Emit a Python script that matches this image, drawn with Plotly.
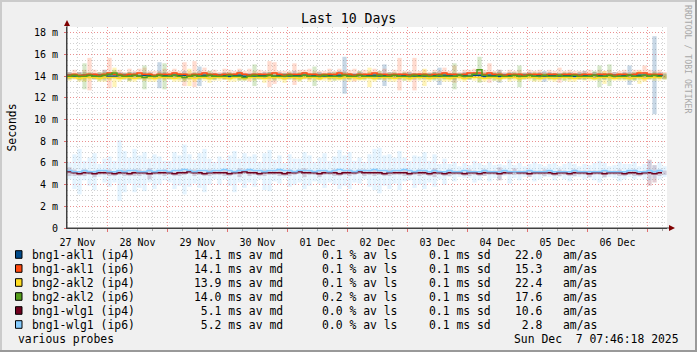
import plotly.graph_objects as go
import pandas as pd

# ---------------- data ----------------
START = "2025-11-27 07:46:18"
END = "2025-12-07 07:46:18"
N_STEPS = 120  # 2-hour consolidation steps

names = ["bng1-akl1 (ip4)", "bng1-akl1 (ip6)", "bng2-akl2 (ip4)",
         "bng2-akl2 (ip6)", "bng1-wlg1 (ip4)", "bng1-wlg1 (ip6)"]
colors = ["#004A8A", "#FF4A10", "#FFDD22", "#559E1C", "#70001E", "#86CCFF"]
smoke_colors = ["rgba(0,74,138,0.22)", "rgba(255,74,16,0.20)", "rgba(255,214,0,0.28)",
                "rgba(85,158,28,0.24)", "rgba(112,0,30,0.20)", "rgba(134,204,255,0.22)"]

avg_median = [14.1, 14.1, 13.9, 14.0, 5.1, 5.2]
avg_loss = [0.1, 0.1, 0.1, 0.2, 0.0, 0.0]
avg_sd = [0.1, 0.1, 0.1, 0.1, 0.1, 0.1]
am_as = [22.0, 15.3, 22.4, 17.6, 10.6, 2.8]

akl1_ip4 = [14.1,14.0,14.0,14.1,14.1,14.0,14.1,14.1,14.0,14.0,
            14.1,14.1,14.0,14.1,14.0,14.1,14.1,14.0,14.1,14.1,
            14.0,14.1,14.1,14.1,14.0,14.1,14.0,14.1,14.1,14.0,
            14.1,14.1,14.0,14.1,14.1,14.0,14.1,14.0,14.1,14.1,
            14.1,14.0,14.1,14.1,14.0,14.1,14.1,14.1,14.0,14.1,
            14.1,14.0,14.1,14.0,14.1,14.1,14.0,14.1,14.1,14.0,
            14.1,14.1,14.0,14.1,14.1,14.1,14.0,14.1,14.1,14.0,
            14.1,14.0,14.1,14.1,14.0,14.1,14.1,14.0,14.1,14.1,
            14.0,14.1,14.1,14.0,14.1,14.1,14.0,14.1,14.1,14.1,
            14.0,14.1,14.1,14.0,14.1,14.0,14.1,14.1,14.0,14.1,
            14.1,14.0,14.1,14.1,14.0,14.1,14.1,14.0,14.1,14.1,
            14.0,14.1,14.1,14.0,14.1,14.1,14.0,14.1,14.1,14.0]
akl1_ip6 = [14.1,14.2,14.1,14.1,14.2,14.2,14.1,14.2,14.3,14.2,
            14.2,14.1,14.2,14.2,14.3,14.2,14.2,14.1,14.2,14.2,
            14.2,14.3,14.2,14.2,14.1,14.2,14.2,14.3,14.2,14.2,
            14.1,14.2,14.2,14.2,14.3,14.2,14.1,14.2,14.2,14.2,
            14.2,14.3,14.2,14.1,14.2,14.2,14.2,14.3,14.2,14.2,
            14.1,14.2,14.2,14.2,14.3,14.2,14.2,14.1,14.2,14.2,
            14.2,14.3,14.2,14.2,14.1,14.2,14.2,14.2,14.1,14.2,
            14.2,14.2,14.1,14.2,14.2,14.3,14.2,14.2,14.1,14.2,
            14.3,14.3,14.3,14.2,14.3,14.2,14.2,14.1,14.2,14.2,
            14.2,14.1,14.2,14.2,14.2,14.1,14.2,14.2,14.1,14.2,
            14.2,14.2,14.1,14.2,14.2,14.1,14.2,14.2,14.2,14.1,
            14.2,14.2,14.1,14.2,14.3,14.3,14.2,14.2,14.2,14.1]
akl2_ip4 = [13.9,13.9,13.8,13.9,13.9,13.9,13.8,13.9,13.9,13.9,
            13.8,13.9,13.9,13.8,13.9,13.9,13.9,13.8,13.9,13.9,
            13.9,13.8,13.9,13.9,13.9,13.8,13.9,13.9,13.8,13.9,
            13.9,13.9,13.8,13.9,13.9,13.8,13.9,13.9,13.9,13.8,
            13.9,13.9,13.9,13.8,13.9,13.9,13.8,13.9,13.9,13.9,
            13.8,13.9,13.9,13.9,13.8,13.9,13.9,13.9,13.8,13.9,
            13.9,13.8,13.9,13.9,13.9,13.8,13.9,13.9,13.8,13.9,
            13.9,13.9,13.8,13.9,13.9,13.9,13.8,13.9,13.9,13.8,
            13.9,13.9,13.9,13.8,13.9,13.9,13.8,13.9,13.9,13.9,
            13.8,13.9,13.9,13.9,13.8,13.9,13.9,13.8,13.9,13.9,
            13.9,13.8,13.9,13.9,13.9,13.8,13.9,13.9,13.9,13.8,
            13.9,13.9,13.8,13.9,13.9,13.8,13.9,13.9,13.9,13.9]
akl2_ip6 = [14.0,14.1,14.0,14.0,14.1,14.0,14.0,14.1,14.2,14.3,
            14.1,14.0,14.0,14.1,14.0,13.9,14.0,14.0,14.1,14.0,
            14.0,14.1,14.0,13.9,14.0,14.1,14.0,14.0,14.1,14.0,
            14.0,14.0,14.1,14.0,14.0,13.9,14.0,14.1,14.0,14.0,
            14.1,14.0,14.0,14.0,14.1,14.0,14.0,14.1,14.0,14.0,
            14.0,14.1,14.0,14.0,14.0,14.1,14.0,14.0,14.1,14.0,
            14.0,14.0,14.1,14.0,14.0,14.1,14.0,14.0,14.0,14.1,
            14.0,14.1,14.0,14.0,14.1,14.0,14.0,14.0,14.1,14.0,
            14.0,14.2,14.6,14.1,14.0,14.0,14.1,14.0,14.0,14.1,
            14.0,14.0,14.1,14.0,14.0,14.1,14.0,14.0,14.1,14.0,
            14.0,14.1,14.0,14.0,14.0,14.1,14.0,14.0,14.1,14.0,
            14.0,14.0,14.1,14.0,14.0,14.1,14.0,14.1,14.0,14.0]
wlg1_ip4 = [5.2,5.1,5.0,5.1,5.1,5.0,5.1,5.1,5.1,5.0,
            5.1,5.1,5.0,5.1,5.1,5.1,5.0,5.1,5.1,5.1,
            5.1,5.0,5.1,5.1,5.2,5.1,5.1,5.0,5.1,5.1,
            5.1,5.1,5.0,5.1,5.1,5.2,5.1,5.1,5.0,5.1,
            5.1,5.1,5.1,5.0,5.1,5.1,5.2,5.1,5.1,5.1,
            5.0,5.1,5.1,5.1,5.0,5.1,5.1,5.1,5.2,5.1,
            5.1,5.1,5.1,5.0,5.1,5.1,5.1,5.1,5.0,5.1,
            5.1,5.1,5.0,5.1,5.1,5.0,5.1,5.1,5.1,5.0,
            5.1,5.1,5.0,5.1,5.1,5.1,5.0,5.1,5.1,5.2,
            5.1,5.1,5.0,5.1,5.1,5.1,5.1,5.0,5.1,5.1,
            5.0,5.1,5.1,5.1,5.0,5.1,5.1,5.0,5.1,5.1,
            5.1,5.0,5.1,5.1,5.0,5.1,5.1,5.0,5.1,5.1]
wlg1_ip6 = [5.3,5.2,5.2,5.3,5.2,5.2,5.3,5.3,5.2,5.2,
            5.3,5.2,5.3,5.3,5.2,5.2,5.3,5.2,5.3,5.3,
            5.2,5.3,5.3,5.4,5.3,5.2,5.3,5.3,5.2,5.3,
            5.3,5.4,5.3,5.2,5.3,5.3,5.4,5.3,5.3,5.2,
            5.3,5.3,5.4,5.3,5.3,5.2,5.3,5.3,5.3,5.2,
            5.3,5.3,5.2,5.3,5.4,5.3,5.3,5.2,5.3,5.3,
            5.3,5.4,5.3,5.3,5.2,5.3,5.3,5.4,5.3,5.2,
            5.3,5.3,5.2,5.3,5.2,5.2,5.3,5.2,5.2,5.3,
            5.2,5.2,5.2,5.3,5.2,5.2,5.2,5.3,5.2,5.2,
            5.2,5.2,5.3,5.2,5.2,5.2,5.3,5.2,5.2,5.2,
            5.2,5.3,5.2,5.2,5.2,5.2,5.2,5.3,5.2,5.2,
            5.2,5.2,5.3,5.3,5.2,5.2,5.3,5.2,5.3,5.2]

# smoke half-ranges (ms) per step
akl1_ip4_sp = [0.3,0.2,0.4,0.3,0.2,0.3,0.2,0.5,0.3,0.2,
               0.3,0.2,0.4,0.3,0.2,0.3,0.3,0.2,1.2,0.3,
               0.2,0.3,0.2,0.4,0.3,0.2,0.9,0.3,0.2,0.3,
               0.2,0.3,0.3,0.2,0.4,0.3,0.2,0.3,0.2,0.3,
               0.3,0.2,0.3,0.2,0.3,0.4,0.2,0.3,0.3,0.2,
               0.3,0.2,0.3,0.2,0.4,1.7,0.3,0.2,0.3,0.2,
               0.3,0.2,0.3,1.0,0.3,0.2,0.3,0.2,0.3,0.3,
               0.2,0.3,0.2,0.3,0.8,0.3,0.2,0.3,0.2,0.3,
               0.3,0.2,0.3,0.2,0.3,0.2,0.6,0.2,0.3,0.2,
               0.3,0.2,0.3,0.2,0.3,0.5,0.3,0.2,0.3,0.2,
               0.3,0.2,0.3,0.4,0.2,0.3,0.2,0.3,0.2,0.3,
               0.2,0.3,0.9,0.3,0.2,0.3,0.2,3.6,0.3,0.2]
akl1_ip6_sp = [0.3,0.4,0.3,0.5,1.5,0.4,0.3,0.4,1.4,0.3,
               0.4,0.3,0.5,0.3,0.4,0.6,0.3,0.4,0.3,0.5,
               0.3,0.4,0.3,1.1,0.4,1.2,0.3,0.5,0.3,0.4,
               0.3,0.5,0.4,0.3,0.4,0.3,0.6,0.3,0.4,0.3,
               1.2,1.0,0.3,0.4,0.3,1.0,0.4,0.3,0.5,0.3,
               0.4,0.3,0.5,0.3,0.4,0.3,0.4,0.6,0.3,0.4,
               0.3,0.4,0.3,0.5,0.3,0.4,1.5,0.3,0.4,1.5,
               0.3,0.4,0.3,0.4,0.3,0.5,0.3,0.8,0.3,0.4,
               0.3,0.4,0.3,0.4,0.9,0.3,0.4,0.3,0.4,0.3,
               0.4,0.3,0.4,0.3,0.4,0.3,0.4,0.3,0.7,0.3,
               0.4,0.3,0.4,0.3,0.4,0.3,0.4,0.3,0.4,0.3,
               0.3,0.4,0.3,0.4,0.3,0.7,0.4,0.3,0.4,0.3]
akl2_ip4_sp = [0.3,0.2,0.3,0.4,0.3,0.2,0.3,0.4,0.3,0.9,
               0.3,0.2,0.4,0.3,0.2,0.3,0.4,0.3,0.2,0.3,
               0.2,0.3,0.4,0.3,0.8,0.3,0.2,0.3,0.4,0.3,
               0.3,0.2,0.3,0.4,0.3,0.2,0.3,0.3,0.2,0.4,
               0.3,0.2,0.3,0.4,0.2,0.3,0.3,0.2,0.4,0.3,
               0.2,0.3,0.4,0.3,0.2,0.3,0.4,0.3,0.2,0.3,
               0.9,0.3,0.2,0.3,0.4,0.3,0.2,0.3,0.3,0.2,
               0.3,0.8,0.3,0.2,0.3,0.4,0.3,0.2,0.3,0.3,
               0.2,0.3,0.4,0.3,0.2,0.3,0.3,0.2,0.4,0.3,
               0.3,0.2,0.3,0.4,0.3,0.2,0.3,0.3,0.2,0.3,
               0.4,0.3,0.2,0.3,0.3,0.2,0.3,0.6,0.3,0.2,
               0.3,0.3,0.2,0.3,0.6,0.3,0.2,0.3,0.3,0.2]
akl2_ip6_sp = [0.3,0.2,0.3,1.2,0.3,0.2,0.4,0.3,0.2,0.3,
               0.2,0.3,0.4,0.2,0.3,1.1,0.3,0.2,0.3,1.2,
               0.3,0.2,0.3,0.4,0.2,0.3,0.3,0.2,0.4,0.3,
               0.2,0.3,0.3,0.2,0.4,0.3,0.2,1.0,0.3,0.2,
               0.3,0.4,0.2,0.3,0.3,0.2,0.4,0.3,0.2,0.9,
               0.3,0.2,0.3,0.4,0.2,0.3,0.3,0.2,0.4,0.3,
               0.2,0.3,0.4,0.2,0.3,0.3,0.2,0.4,0.3,0.2,
               0.3,0.2,0.3,0.4,0.2,0.3,0.3,1.2,0.2,0.3,
               0.3,0.2,1.2,0.3,0.2,0.4,0.3,0.2,0.3,0.3,
               1.0,0.3,0.2,0.4,0.3,0.2,0.3,0.3,0.2,0.4,
               0.3,0.2,0.3,0.3,0.2,0.4,1.0,0.3,1.0,0.2,
               0.3,0.3,0.2,0.4,0.3,0.2,0.3,0.3,0.2,0.3]
wlg1_ip4_sp = [0.4,0.3,0.2,0.3,0.2,0.3,0.2,0.2,0.3,0.2,
               0.2,0.3,0.2,0.3,0.3,0.2,0.5,0.2,0.2,0.3,
               0.2,0.2,0.3,0.2,0.2,0.3,0.2,0.2,0.3,0.2,
               0.2,0.3,0.2,0.2,0.4,0.2,0.3,0.2,0.2,0.3,
               0.2,0.2,0.3,0.2,0.3,0.2,0.2,0.4,0.2,0.2,
               0.3,0.2,0.2,0.3,0.2,0.2,0.3,0.2,0.2,0.3,
               0.2,0.3,0.2,0.2,0.3,0.2,0.2,0.3,0.2,0.2,
               0.3,0.2,0.2,0.4,0.2,0.2,0.3,0.2,0.2,0.2,
               0.3,0.2,0.2,0.3,0.2,0.2,0.6,0.2,0.2,0.3,
               0.2,0.2,0.3,0.2,0.2,0.3,0.2,0.2,0.3,0.2,
               0.2,0.3,0.2,0.2,0.3,0.2,0.2,0.3,0.2,0.2,
               0.3,0.2,0.2,0.3,0.2,0.2,1.2,0.8,0.3,0.2]
wlg1_ip6_sp = [0.8,1.6,2.1,0.9,1.3,1.7,0.6,1.1,1.4,1.0,
               2.8,1.9,1.2,2.0,1.5,1.8,1.1,1.6,1.3,0.9,
               1.0,1.7,1.4,2.3,1.5,1.1,1.6,2.0,1.2,0.8,
               1.3,0.9,1.4,1.9,1.1,1.6,1.2,1.5,0.8,1.7,
               1.9,1.0,1.3,0.7,1.5,1.2,1.1,1.7,1.4,0.9,
               1.2,1.6,1.0,1.3,1.8,1.4,1.7,1.0,1.2,0.8,
               1.5,1.9,2.1,1.4,1.6,1.2,1.8,1.1,0.9,1.5,
               1.3,1.7,1.0,1.5,0.7,1.2,0.6,0.9,0.5,0.7,
               0.6,1.0,0.8,0.5,0.9,0.6,0.7,0.5,1.1,0.6,
               0.8,0.5,0.6,0.9,0.7,0.5,0.6,0.8,0.5,0.7,
               0.9,0.6,0.5,0.7,0.6,0.8,1.0,0.7,0.5,0.6,
               0.9,0.7,0.6,0.8,0.5,0.7,0.9,0.6,0.8,0.5]

y_tick_vals = [0, 2, 4, 6, 8, 10, 12, 14, 16, 18]
y_tick_text = ["0", "2 m", "4 m", "6 m", "8 m", "10 m", "12 m", "14 m", "16 m", "18 m"]

medians = [akl1_ip4, akl1_ip6, akl2_ip4, akl2_ip6, wlg1_ip4, wlg1_ip6]
spreads = [akl1_ip4_sp, akl1_ip6_sp, akl2_ip4_sp, akl2_ip6_sp, wlg1_ip4_sp, wlg1_ip6_sp]

# ---------------- layout helpers ----------------
W, H = 697, 352
PL, PR, PT, PB = 67, 667, 27, 228
MONO = "DejaVu Sans Mono"
NB = "\u00a0"


def fx(px):
    return (px - PL) / (PR - PL)


def fy(py):
    return (PB - py) / (PB - PT)


times = pd.date_range(START, periods=N_STEPS, freq="2h")
centers = times + pd.Timedelta(hours=1)
bar_w = 2 * 3600 * 1000 * 0.85

fig = go.Figure()
for i in range(6):
    med, sp = medians[i], spreads[i]
    fig.add_trace(go.Bar(
        x=centers, y=[2 * s for s in sp], base=[m - s for m, s in zip(med, sp)],
        width=bar_w, marker=dict(color=smoke_colors[i], line=dict(width=0)),
        showlegend=False, hoverinfo="skip"))
for i in range(6):
    fig.add_trace(go.Scatter(
        x=times, y=medians[i], mode="lines", line=dict(color=colors[i], width=1.5, shape="hv"),
        showlegend=False, hoverinfo="skip"))

shapes = []
annotations = []

# frame shading
shapes += [
    dict(type="rect", xref="paper", yref="paper", x0=fx(0), x1=fx(W), y0=fy(0), y1=fy(2),
         fillcolor="#CBCBCB", line=dict(width=0), layer="above"),
    dict(type="rect", xref="paper", yref="paper", x0=fx(0), x1=fx(2), y0=fy(0), y1=fy(H),
         fillcolor="#CBCBCB", line=dict(width=0), layer="above"),
    dict(type="rect", xref="paper", yref="paper", x0=fx(0), x1=fx(W), y0=fy(H - 2), y1=fy(H),
         fillcolor="#999999", line=dict(width=0), layer="above"),
    dict(type="rect", xref="paper", yref="paper", x0=fx(W - 2), x1=fx(W), y0=fy(0), y1=fy(H),
         fillcolor="#999999", line=dict(width=0), layer="above"),
]
# axis extensions and arrows
shapes += [
    dict(type="line", xref="paper", yref="paper", x0=fx(PL), x1=fx(PL), y0=fy(PB), y1=fy(22),
         line=dict(color="#404040", width=1), layer="above"),
    dict(type="line", xref="paper", yref="paper", x0=fx(PL), x1=fx(672), y0=fy(PB), y1=fy(PB),
         line=dict(color="#404040", width=1), layer="above"),
    dict(type="path", xref="paper", yref="paper",
         path=f"M {fx(PL)} {fy(20)} L {fx(PL - 3)} {fy(26)} L {fx(PL + 3)} {fy(26)} Z",
         fillcolor="#7F0000", line=dict(width=0), layer="above"),
    dict(type="path", xref="paper", yref="paper",
         path=f"M {fx(675)} {fy(PB)} L {fx(669)} {fy(PB - 3)} L {fx(669)} {fy(PB + 3)} Z",
         fillcolor="#7F0000", line=dict(width=0), layer="above"),
]


def text(px, py, s, size=11.4, anchor="left", color="#000000", angle=0):
    annotations.append(dict(
        xref="paper", yref="paper", x=fx(px), y=fy(py), text=s.replace(" ", NB),
        showarrow=False, xanchor=anchor, yanchor="middle", borderpad=0, textangle=angle,
        font=dict(family=MONO, size=size, color=color)))


text(348.5, 19, "Last 10 Days", size=13.2, anchor="center")
text(11, 127.5, "Seconds", size=11.4, anchor="center", angle=-90)
text(688, 59, "RRDTOOL / TOBI OETIKER", size=8.2, anchor="center", color="#A8A8A8", angle=90)

for i in range(6):
    yy = 254.5 + 14 * i
    shapes.append(dict(type="rect", xref="paper", yref="paper",
                       x0=fx(15.5), x1=fx(22), y0=fy(yy - 3.8), y1=fy(yy + 3.8),
                       fillcolor=colors[i], line=dict(color="#000000", width=1), layer="above"))
    text(30.7, yy, names[i])
    text(193.3, yy, f"{avg_median[i]:4.1f} ms av md")
    text(321, yy, f"{avg_loss[i]:.1f} % av ls")
    text(428.3, yy, f"{avg_sd[i]:.1f} ms sd")
    text(514.3, yy, f"{am_as[i]:4.1f}   am/as")

text(16.7, 338.5, "various probes")
text(680, 338.5, "Sun Dec  7 07:46:18 2025", anchor="right")

fig.update_layout(
    width=W, height=H, margin=dict(l=PL, r=W - PR, t=PT, b=H - PB),
    paper_bgcolor="#F0F0F0", plot_bgcolor="#FFFFFF", barmode="overlay",
    showlegend=False, shapes=shapes, annotations=annotations,
    font=dict(family=MONO, size=10, color="#000000"),
)
fig.update_xaxes(
    type="date", range=[START, END], dtick=86400000, tick0="2025-11-28",
    ticklabelmode="period", tickformat="%d %b",
    showgrid=True, gridcolor="rgba(240,128,128,0.8)", griddash="1px,2px", gridwidth=1,
    ticks="outside", ticklen=3, tickcolor="#E07070",
    minor=dict(dtick=6 * 3600 * 1000, tick0="2025-11-28", showgrid=True,
               gridcolor="#D2D2D2", griddash="1px,2px", ticks="outside", ticklen=2,
               tickcolor="#A0A0A0"),
    showline=True, linecolor="#404040", linewidth=1, zeroline=False,
    tickfont=dict(family=MONO, size=10), ticklabelstandoff=2,
)
fig.update_yaxes(
    range=[0, 18.55], tickmode="array", tickvals=y_tick_vals, ticktext=y_tick_text,
    showgrid=True, gridcolor="rgba(240,128,128,0.8)", griddash="1px,2px", gridwidth=1,
    ticks="outside", ticklen=2, tickcolor="#E07070",
    minor=dict(tickmode="linear", dtick=0.5, tick0=0, showgrid=True,
               gridcolor="#D2D2D2", griddash="1px,2px"),
    showline=True, linecolor="#404040", linewidth=1, zeroline=False,
    tickfont=dict(family=MONO, size=10), ticklabelstandoff=4,
)

fig.write_html("out.html")
